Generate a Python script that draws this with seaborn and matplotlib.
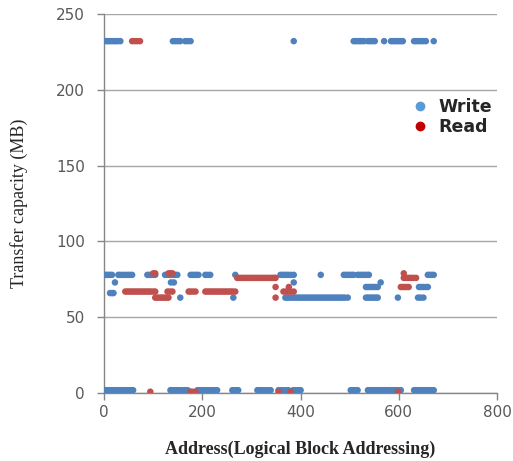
import numpy as np
import pandas as pd
import matplotlib
matplotlib.use('Agg')
import matplotlib.pyplot as plt
import seaborn as sns
from matplotlib.lines import Line2D

# ---- data (x = LBA address, y = MB) ----
write_x_232 = [0, 4, 8, 12, 16, 20, 24, 28, 33, 140, 145, 150, 155, 165, 170, 176, 386,
               508, 512, 516, 520, 524, 529, 537, 541, 546, 551, 570, 584, 588, 592, 596,
               600, 604, 608, 631, 635, 640, 645, 650, 655, 671]
write_x_78 = [0, 4, 8, 12, 16, 29, 33, 38, 43, 48, 52, 57, 88, 92, 96, 100, 104, 124, 128,
              132, 136, 140, 145, 149, 176, 180, 184, 188, 192, 206, 211, 216, 267, 359, 363,
              367, 371, 375, 380, 386, 441, 488, 492, 496, 500, 504, 508, 516, 520, 524, 528,
              532, 536, 539, 659, 663, 667, 671]
write_x_73 = [22, 136, 142, 386, 563]
write_x_70 = [533, 537, 541, 545, 549, 553, 557, 641, 645, 650, 655, 659]
write_x_66 = [12, 16, 19]
write_x_63 = [155, 263, 369, 373, 377, 382, 386, 390, 394, 398, 402, 406, 410, 414, 418, 422,
              426, 430, 434, 438, 442, 446, 450, 454, 458, 462, 466, 470, 474, 478, 482, 486,
              490, 496, 533, 537, 541, 545, 549, 553, 557, 598, 639, 644, 650]
write_x_2 = [0, 4, 8, 12, 16, 20, 24, 28, 32, 36, 40, 44, 48, 52, 56, 59, 135, 139, 143, 147,
             151, 155, 161, 165, 170, 190, 195, 200, 205, 210, 215, 220, 225, 230, 261, 265,
             269, 273, 312, 316, 320, 325, 330, 335, 339, 355, 360, 365, 370, 375, 385, 390,
             395, 400, 502, 506, 511, 516, 537, 541, 546, 551, 555, 559, 563, 567, 571, 575,
             579, 583, 587, 591, 595, 600, 604, 631, 635, 639, 643, 647, 651, 655, 659, 663,
             667, 671]
write_x_0 = [145, 150, 395, 545, 550]

read_x_232 = [57, 62, 67, 73]
read_x_79 = [100, 104, 131, 135, 139, 610]
read_x_76 = [271, 275, 279, 283, 287, 291, 295, 299, 303, 307, 311, 315, 319, 323, 327, 331,
             335, 339, 343, 347, 349, 610, 614, 618, 622, 626, 630, 635]
read_x_70 = [349, 376, 604, 608, 612, 616, 620]
read_x_67 = [43, 47, 51, 55, 59, 63, 67, 71, 75, 79, 83, 87, 91, 95, 100, 104, 129, 134, 139,
             172, 176, 181, 186, 206, 210, 214, 218, 222, 226, 230, 234, 238, 242, 246, 250,
             254, 258, 262, 267, 365, 370, 375, 380, 386]
read_x_63 = [104, 108, 112, 116, 120, 124, 128, 131, 349]
read_x_1 = [94, 176, 180, 186, 355, 380, 598]

write_levels = {232: write_x_232, 78: write_x_78, 73: write_x_73, 70: write_x_70,
                66: write_x_66, 63: write_x_63, 2: write_x_2, 0: write_x_0}
read_levels = {232: read_x_232, 79: read_x_79, 76: read_x_76, 70: read_x_70,
               67: read_x_67, 63: read_x_63, 1: read_x_1}

rows = []
for y, xs in write_levels.items():
    rows += [(x, y, 'Write') for x in xs]
for y, xs in read_levels.items():
    rows += [(x, y, 'Read') for x in xs]
df = pd.DataFrame(rows, columns=['address', 'mb', 'op'])

sns.set_theme(style='white')
fig = plt.figure(figsize=(5.13, 4.61), dpi=100)
ax = fig.add_axes([0.203, 0.147, 0.766, 0.823])

sns.scatterplot(data=df, x='address', y='mb', hue='op',
                palette={'Write': '#4F81BD', 'Read': '#C0504D'},
                s=22, linewidth=0, legend=False, ax=ax, zorder=3)

ax.set_xlim(0, 800)
ax.set_ylim(0, 250)
ax.set_xticks([0, 200, 400, 600, 800])
ax.set_yticks([0, 50, 100, 150, 200, 250])
ax.yaxis.grid(True, color='#A6A6A6', linewidth=1)
ax.xaxis.grid(False)
for side in ['top', 'right']:
    ax.spines[side].set_visible(False)
for side in ['left', 'bottom']:
    ax.spines[side].set_color('#868686')
    ax.spines[side].set_linewidth(1)
ax.tick_params(axis='both', direction='out', length=5, width=1, color='#868686',
               labelcolor='#595959', labelsize=11, left=True, bottom=True)
ax.tick_params(axis='y', pad=9)

ax.set_ylabel('Transfer capacity (MB)', family='Liberation Serif', fontsize=13,
              labelpad=20)
ax.set_xlabel('Address(Logical Block Addressing)', family='Liberation Serif',
              fontsize=13, fontweight='bold', labelpad=15)

handles = [Line2D([], [], marker='o', linestyle='', color='#5B9BD5', markersize=6),
           Line2D([], [], marker='o', linestyle='', color='#C00000', markersize=6)]
ax.legend(handles, ['Write', 'Read'], loc='upper left', bbox_to_anchor=(0.72, 0.82),
          frameon=False, handletextpad=0.05, labelspacing=0.15,
          prop={'weight': 'bold', 'size': 12.5})

fig.savefig('out.png', dpi=100)
